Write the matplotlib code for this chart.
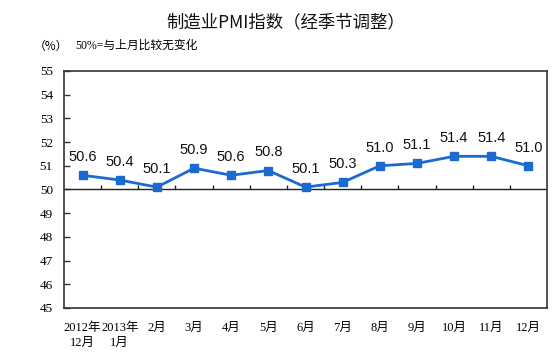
import matplotlib
matplotlib.use("Agg")
import matplotlib.pyplot as plt

categories = ["2012年\n12月", "2013年\n1月", "2月", "3月", "4月", "5月", "6月",
              "7月", "8月", "9月", "10月", "11月", "12月"]
pmi = [50.6, 50.4, 50.1, 50.9, 50.6, 50.8, 50.1, 50.3, 51.0, 51.1, 51.4, 51.4, 51.0]
yticks = [45, 46, 47, 48, 49, 50, 51, 52, 53, 54, 55]

serif_cjk = ["Liberation Serif", "Noto Sans CJK SC"]
cjk = ["Noto Sans CJK SC", "DejaVu Sans"]

fig = plt.figure(figsize=(5.53, 3.64), dpi=100)
W, H = 553, 364
ax = fig.add_axes([64 / W, 1 - 308 / H, (547 - 64) / W, (308 - 71) / H])

x = list(range(len(categories)))
color = "#1B6ACF"
ax.plot(x, pmi, color=color, lw=2, marker="s", ms=5.5, zorder=3)
for xi, v in zip(x, pmi):
    ax.annotate(f"{v:.1f}", (xi, v), xytext=(0, 8), textcoords="offset points",
                ha="center", va="bottom", fontsize=10.5, family="Liberation Sans",
                color="#111111")

ax.set_xlim(-0.5, len(categories) - 0.5)
ax.set_ylim(yticks[0], yticks[-1])
ax.set_yticks(yticks)
ax.set_yticklabels([str(t) for t in yticks], family="Liberation Serif", fontsize=9.5)
ax.tick_params(axis="y", direction="in", length=4, width=1, color="#333333", pad=8)
ax.set_xticks(x)
ax.set_xticklabels(categories, family=serif_cjk, fontsize=9, linespacing=1.35)
ax.tick_params(axis="x", length=0, pad=10)
for lbl in ax.get_xticklabels():
    lbl.set_verticalalignment("top")

ax.axhline(50, color="#222222", lw=1, zorder=2)
ax.vlines([i + 0.5 for i in x[:-1]], 50, 50.2, color="#222222", lw=1, zorder=2)

for s in ax.spines.values():
    s.set_color("#333333")
    s.set_linewidth(1.2)

fig.text(286 / W, 1 - 22 / H, "制造业PMI指数（经季节调整）", ha="center", va="center",
         fontsize=12.5, family=cjk, color="#111111")
fig.text(51 / W, 1 - 46 / H, "（%）", ha="center", va="center", fontsize=8.5, family=cjk)
fig.text(75 / W, 1 - 46 / H, "50%=与上月比较无变化", ha="left", va="center",
         fontsize=8.5, family=serif_cjk)

fig.savefig("out.png", dpi=100)
